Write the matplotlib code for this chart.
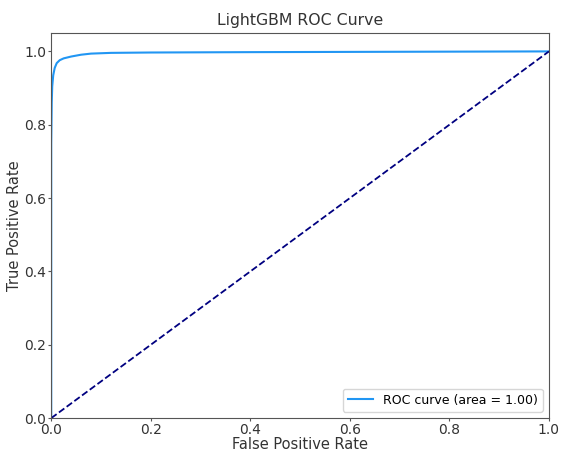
import matplotlib
matplotlib.use("Agg")
from matplotlib import pyplot as plt

# ROC points
fpr = [0.0, 0.0, 0.001, 0.002, 0.004, 0.007, 0.011, 0.017, 0.025, 0.04, 0.06, 0.08, 0.12, 0.2, 0.4, 0.7, 1.0]
tpr = [0.0, 0.75, 0.86, 0.905, 0.935, 0.955, 0.968, 0.976, 0.981, 0.986, 0.991, 0.994, 0.996, 0.997, 0.998, 0.999, 1.0]
roc_auc = 1.00

fig = plt.figure(figsize=(5.63, 4.53), dpi=100)
ax = fig.add_axes([0.091, 0.077, 0.884, 0.85])

ax.plot(fpr, tpr, color='#2196f3', lw=1.5, label='ROC curve (area = %0.2f)' % roc_auc)
ax.plot([0, 1], [0, 1], color='navy', lw=1.3, linestyle='--')
ax.set_xlim([0.0, 1.0])
ax.set_ylim([0.0, 1.05])
ax.set_xlabel('False Positive Rate', fontsize=10.5, color='#333333')
ax.set_ylabel('True Positive Rate', fontsize=10.5, color='#333333')
ax.xaxis.set_label_coords(0.5, -0.05)
ax.yaxis.set_label_coords(-0.058, 0.5)
ax.set_title('LightGBM ROC Curve', fontsize=11.3, color='#333333')
ax.tick_params(labelsize=10, labelcolor='#333333', color='#555555', length=2.5, pad=1)
for s in ax.spines.values():
    s.set_color('#555555')
ax.legend(loc='lower right', fontsize=9)

plt.savefig('out.png')
